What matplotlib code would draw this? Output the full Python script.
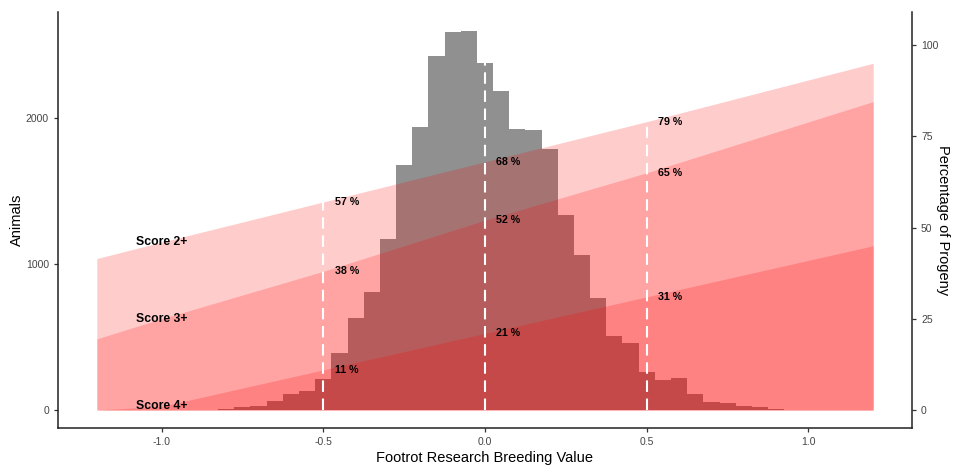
import numpy as np
import matplotlib
matplotlib.use("Agg")
import matplotlib.pyplot as plt

plt.rcParams['font.family'] = ['Liberation Sans', 'DejaVu Sans']

# histogram of breeding values (bin centres, width 0.05)
bin_centres = [-0.85, -0.8, -0.75, -0.7, -0.65, -0.6, -0.55, -0.5, -0.45, -0.4,
               -0.35, -0.3, -0.25, -0.2, -0.15, -0.1, -0.05, 0.0, 0.05, 0.1,
               0.15, 0.2, 0.25, 0.3, 0.35, 0.4, 0.45, 0.5, 0.55, 0.6,
               0.65, 0.7, 0.75, 0.8, 0.85, 0.9, 0.95]
counts = [3, 9, 18, 25, 64, 107, 130, 211, 388, 630,
          810, 1171, 1678, 1941, 2425, 2591, 2596, 2374, 2187, 1925,
          1920, 1785, 1336, 1060, 767, 507, 457, 262, 205, 221,
          107, 55, 46, 30, 18, 9, 3]

# percentage of progeny by score
rbv = [-1.2, -1.0, -0.5, 0.0, 0.5, 1.2]
score2 = [41.5, 46, 57, 68, 79, 95]
score3 = [19.5, 25, 38, 52, 65, 84.5]
score4 = [0, 1, 11, 21, 31, 45]
score_names = ["Score 2+", "Score 3+", "Score 4+"]
marks = [-0.5, 0.0, 0.5]

scale = 25  # animals per percent on the secondary axis

fig = plt.figure(figsize=(9.54, 4.65), dpi=100)
ax = fig.add_axes([58/954, 1-428/465, (912-58)/954, (428-12)/465])

ax.bar(bin_centres, counts, width=0.05, color='#909090', linewidth=0, zorder=1)

x = np.array(rbv)
for s in [score2, score3, score4]:
    ax.fill_between(x, 0, np.array(s) * scale, color='red', alpha=0.2,
                    linewidth=0, zorder=2)

# score labels at x = -1.0
for name, s in zip(score_names, [score2, score3, score4]):
    ax.text(-1.0, np.interp(-1.0, rbv, s) * scale, name, ha='center', va='center',
            fontsize=8.8, fontweight='bold', color='black', zorder=5)

# dashed markers with percentage labels
for m in marks:
    hist_h = counts[int(np.argmin(np.abs(np.array(bin_centres) - m)))]
    top = max(np.interp(m, rbv, score2) * scale, hist_h)
    ax.plot([m, m], [0, top], color='white', lw=1.5, ls=(0, (5.5, 3.2)),
            dash_capstyle='butt', zorder=4)
    for s in [score2, score3, score4]:
        p = np.interp(m, rbv, s)
        ax.text(m + 0.035, p * scale, "%d %%" % round(p), ha='left', va='center',
                fontsize=7.7, fontweight='bold', color='black', zorder=5)

ax.set_xlim(-1.32, 1.32)
ax.set_ylim(-123, 2726)
ax.set_xticks([-1.0, -0.5, 0.0, 0.5, 1.0])
ax.set_xticklabels(["-1.0", "-0.5", "0.0", "0.5", "1.0"])
ax.set_yticks([0, 1000, 2000])
ax.set_xlabel("Footrot Research Breeding Value", fontsize=10.5, labelpad=3)
ax.set_ylabel("Animals", fontsize=10.5, labelpad=1)

sec = ax.secondary_yaxis('right', functions=(lambda y: y / scale, lambda p: p * scale))
sec.set_yticks([0, 25, 50, 75, 100])
fig.text(943/954, 1 - 220/465, "Percentage of Progeny", fontsize=10.5,
         rotation=270, ha='center', va='center')

for a in [ax, sec]:
    a.tick_params(labelsize=7.5, labelcolor='#444444', color='#333333',
                  length=3, width=0.9)
    for side in a.spines:
        a.spines[side].set_linewidth(1.1)
        a.spines[side].set_color('#222222')
ax.spines['top'].set_visible(False)
ax.spines['right'].set_visible(False)

fig.savefig("out.png", dpi=100)
